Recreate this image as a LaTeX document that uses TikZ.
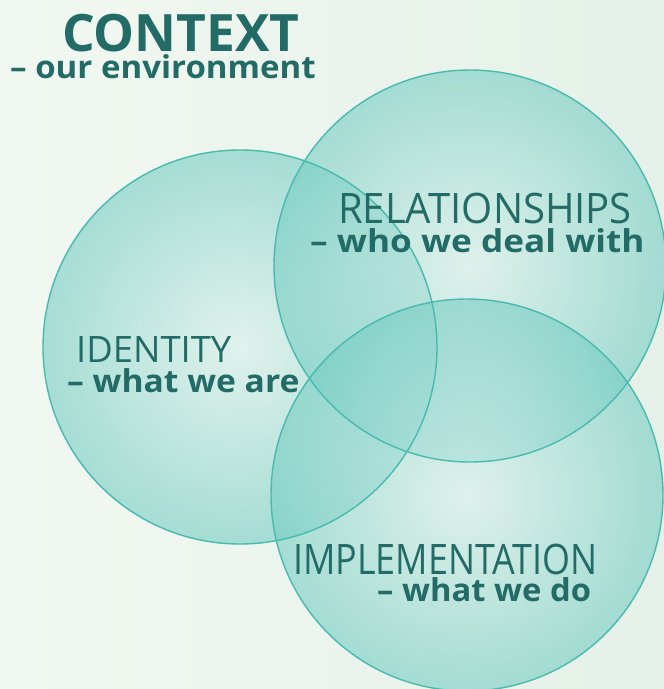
\documentclass[tikz,border=0pt]{standalone}
\usepackage{fontspec}
\usepackage{graphicx}
\setmainfont{Open Sans}
\definecolor{bgA}{HTML}{F1F8F1}
\definecolor{bgB}{HTML}{E5F1E8}
\definecolor{ringc}{HTML}{48BAB0}
\definecolor{fillin}{HTML}{D9F0EC}
\definecolor{fillout}{HTML}{76CDC3}
\definecolor{txt}{HTML}{236B66}
% two lines: baselineskip, indent1, line1, indent2, line2
\newcommand\duoline[5]{\vbox{\hsize=0pt\lineskiplimit=-1000pt\baselineskip=#1\relax
  \hbox{\hspace*{#2}#3}\hbox{\hspace*{#4}#5}}}
\newcommand\headtxt[3]{\scalebox{#2}[1]{\fontsize{#1}{#1}\selectfont #3}}
\newcommand\subtxt[2]{\scalebox{#1}[1]{\bfseries\fontsize{31.5}{31.5}\selectfont #2}}
\tikzset{
  bubble/.style={inner color=fillin, outer color=fillout, fill opacity=0.6},
  ring/.style={draw=ringc, line width=1.4pt},
  label/.style={text=txt, inner sep=0pt, anchor=base west},
}
\begin{document}
\begin{tikzpicture}[x=1pt,y=-1pt]
\useasboundingbox (0,0) rectangle (664,689);
\shade[shading angle=135, left color=bgA, right color=bgB] (0,0) rectangle (664,689);
% circles
\shade[bubble] (240,347) circle (197);
\shade[bubble] (470,266) circle (196);
\shade[bubble] (467,495) circle (196);
\draw[ring] (240,347) circle (197);
\draw[ring] (470,266) circle (196);
\draw[ring] (467,495) circle (196);
% texts
\node[label] (ctx) at (10,78) {\duoline{27pt}{52pt}{{\bfseries\fontsize{51.5}{51.5}\selectfont CONTEXT}}{0pt}{\subtxt{1.049}{– our environment}}};
\node[label] (rel) at (310,252) {\duoline{28.5pt}{28pt}{\headtxt{42}{0.953}{RELATIONSHIPS}}{0pt}{\subtxt{1.117}{– who we deal with}}};
\node[label] (idt) at (67,392) {\duoline{30pt}{9pt}{\headtxt{36.4}{1}{IDENTITY}}{0pt}{\subtxt{1.068}{– what we are}}};
\node[label] (imp) at (293,601) {\duoline{27pt}{0pt}{\headtxt{42}{0.855}{IMPLEMENTATION}}{84pt}{\subtxt{1.04}{– what we do}}};
\end{tikzpicture}
\end{document}
